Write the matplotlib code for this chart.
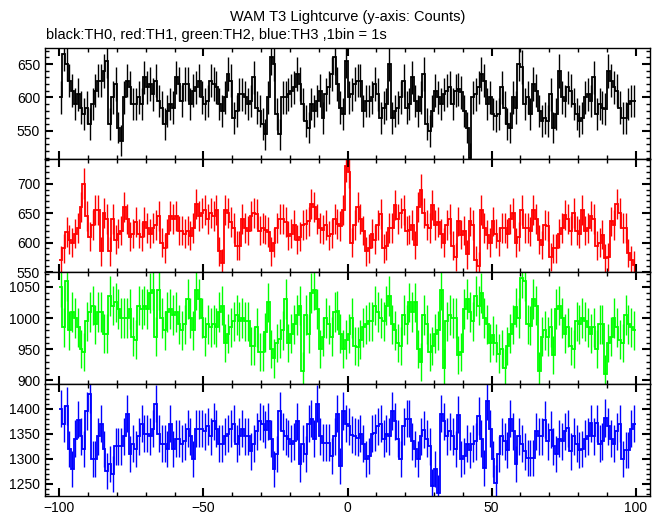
import numpy as np
import matplotlib
matplotlib.use("Agg")
import matplotlib.pyplot as plt
from matplotlib.ticker import MultipleLocator

plt.rcParams['font.family'] = ['Liberation Sans', 'DejaVu Sans']

title = "WAM T3 Lightcurve (y-axis: Counts)"
subtitle = "black:TH0, red:TH1, green:TH2, blue:TH3 ,1bin = 1s"

# bin start times (1 s bins)
t_start = -100
n_bins = 200

th0 = [600, 665, 650, 625, 610, 590, 605, 585, 575, 585, 560, 590, 610, 625, 625, 640, 655, 560, 600, 620,
       555, 535, 600, 625, 615, 590, 590, 600, 590, 630, 615, 620, 605, 625, 595, 585, 560, 580, 590, 585,
       630, 620, 595, 620, 620, 590, 610, 615, 625, 600, 590, 595, 625, 620, 615, 590, 580, 600, 635, 625,
       570, 580, 605, 605, 600, 590, 595, 630, 585, 580, 560, 545, 600, 660, 650, 575, 545, 600, 600, 605,
       610, 615, 635, 620, 590, 565, 555, 590, 580, 595, 610, 570, 605, 615, 635, 660, 620, 585, 575, 655,
       600, 605, 620, 625, 625, 580, 595, 595, 600, 620, 605, 570, 585, 590, 650, 570, 580, 585, 600, 625,
       585, 590, 630, 595, 580, 600, 635, 560, 550, 580, 610, 600, 590, 605, 610, 615, 590, 610, 612, 608,
       580, 555, 510, 600, 605, 615, 635, 625, 590, 600, 575, 572, 575, 615, 585, 560, 555, 600, 585, 650,
       645, 590, 600, 575, 620, 610, 580, 565, 570, 565, 605, 555, 575, 640, 600, 595, 615, 610, 590, 575,
       565, 570, 600, 605, 595, 630, 575, 590, 585, 583, 640, 625, 615, 610, 585, 570, 570, 590, 595, 595]

th1 = [570, 590, 618, 605, 600, 615, 625, 660, 700, 645, 610, 630, 655, 655, 585, 650, 640, 585, 640, 605,
       615, 620, 660, 640, 610, 615, 635, 615, 610, 635, 625, 615, 625, 630, 645, 600, 590, 615, 645, 640,
       645, 620, 620, 615, 620, 612, 625, 665, 645, 650, 655, 640, 650, 645, 655, 585, 565, 655, 650, 635,
       625, 595, 595, 640, 625, 620, 645, 650, 648, 620, 625, 622, 618, 585, 600, 625, 640, 640, 635, 612,
       615, 630, 605, 610, 630, 632, 636, 665, 660, 640, 625, 622, 630, 612, 615, 640, 632, 628, 655, 730,
       720, 600, 630, 660, 640, 620, 585, 590, 615, 605, 630, 648, 590, 595, 625, 625, 664, 640, 650, 655,
       620, 622, 630, 596, 660, 690, 650, 630, 625, 664, 630, 635, 615, 600, 630, 640, 595, 575, 636, 613,
       620, 580, 636, 630, 570, 560, 655, 625, 613, 600, 636, 615, 602, 625, 625, 615, 640, 650, 600, 610,
       655, 625, 625, 619, 655, 640, 605, 596, 630, 628, 575, 590, 590, 615, 625, 647, 640, 620, 650, 620,
       615, 655, 620, 625, 645, 640, 595, 600, 613, 573, 575, 636, 630, 665, 650, 625, 625, 582, 570, 562]

th2 = [1050, 985, 1060, 980, 1010, 1000, 985, 950, 945, 995, 1010, 1020, 990, 1010, 1010, 975, 975, 1035, 1020, 1025,
       1015, 1000, 1000, 1000, 1015, 970, 965, 1020, 1015, 1020, 1015, 1040, 1045, 970, 1045, 1000, 980, 1010, 1015, 1005,
       1010, 990, 980, 990, 1030, 1000, 980, 1045, 1030, 1000, 970, 990, 985, 990, 985, 1010, 1020, 960, 975, 985,
       995, 1005, 995, 1000, 995, 995, 955, 955, 985, 945, 945, 977, 1025, 950, 935, 960, 967, 980, 1030, 960,
       975, 990, 1005, 1020, 915, 1005, 975, 1040, 1045, 1015, 950, 970, 1000, 990, 970, 1010, 1012, 975, 950, 965,
       975, 1000, 955, 954, 965, 985, 990, 995, 995, 1020, 1010, 1000, 995, 1020, 1035, 990, 980, 960, 955, 1005,
       990, 1025, 1010, 1025, 950, 930, 1005, 990, 945, 955, 975, 980, 1045, 920, 995, 1005, 1000, 1000, 940, 945,
       1015, 1030, 1010, 995, 1035, 1020, 1040, 1000, 990, 960, 972, 960, 943, 950, 920, 955, 975, 990, 1017, 1000,
       1065, 1060, 990, 988, 1030, 1020, 915, 970, 980, 970, 985, 940, 1015, 1020, 1000, 975, 985, 955, 950, 995,
       990, 1000, 995, 985, 975, 985, 950, 990, 990, 910, 960, 970, 1000, 985, 965, 960, 1005, 990, 985, 980]

th3 = [1400, 1370, 1405, 1320, 1280, 1340, 1378, 1345, 1320, 1395, 1430, 1300, 1300, 1345, 1370, 1320, 1275, 1290, 1270, 1325,
       1325, 1325, 1345, 1390, 1310, 1330, 1320, 1345, 1370, 1350, 1350, 1345, 1360, 1410, 1350, 1330, 1330, 1320, 1370, 1320,
       1340, 1340, 1330, 1335, 1360, 1345, 1300, 1360, 1360, 1360, 1355, 1365, 1345, 1375, 1360, 1330, 1330, 1345, 1350, 1360,
       1370, 1330, 1345, 1360, 1345, 1345, 1315, 1330, 1355, 1375, 1370, 1358, 1375, 1340, 1280, 1310, 1395, 1355, 1345, 1340,
       1330, 1335, 1375, 1290, 1330, 1310, 1370, 1380, 1340, 1410, 1345, 1332, 1332, 1332, 1305, 1345, 1390, 1285, 1395, 1370,
       1365, 1348, 1345, 1342, 1350, 1330, 1300, 1305, 1350, 1352, 1365, 1370, 1340, 1350, 1345, 1395, 1375, 1340, 1300, 1365,
       1380, 1380, 1335, 1320, 1300, 1345, 1358, 1340, 1325, 1245, 1280, 1232, 1390, 1375, 1345, 1355, 1345, 1320, 1388, 1300,
       1305, 1330, 1318, 1330, 1335, 1385, 1340, 1282, 1415, 1360, 1300, 1252, 1310, 1345, 1335, 1318, 1380, 1355, 1290, 1345,
       1330, 1315, 1302, 1302, 1302, 1355, 1345, 1345, 1378, 1335, 1358, 1325, 1310, 1340, 1335, 1355, 1361, 1315, 1345, 1330,
       1318, 1320, 1340, 1345, 1371, 1345, 1371, 1330, 1335, 1381, 1365, 1340, 1330, 1355, 1370, 1300, 1318, 1318, 1360, 1370]

series = [th0, th1, th2, th3]
colors = ['#000000', '#ff0000', '#00ff00', '#0000ff']
ylims = [(508, 674), (550, 742), (894, 1074), (1226, 1449)]

edges = t_start + np.arange(n_bins + 1)
centers = edges[:-1] + 0.5

W, H = 662, 515
fig = plt.figure(figsize=(W / 100, H / 100), dpi=100)
left, right = 45 / W, 650 / W
tops = [48, 159, 272, 384]
bots = [159, 272, 384, 496]

axes = []
for k in range(4):
    y0 = 1 - bots[k] / H
    h = (bots[k] - tops[k]) / H
    ax = fig.add_axes([left, y0, right - left, h])
    vals = np.array(series[k], dtype=float)
    err = np.sqrt(vals)
    ax.stairs(vals, edges, color=colors[k], lw=1.3, baseline=None)
    ax.vlines(centers, vals - err, vals + err, color=colors[k], lw=1.0)
    ax.set_xlim(-105, 105)
    ax.set_ylim(*ylims[k])
    ax.xaxis.set_major_locator(MultipleLocator(50))
    ax.xaxis.set_minor_locator(MultipleLocator(10))
    ax.yaxis.set_major_locator(MultipleLocator(50))
    ax.yaxis.set_minor_locator(MultipleLocator(10))
    ax.tick_params(which='both', direction='in', top=True, right=True,
                   labelsize=10, colors='black')
    ax.tick_params(which='major', length=6, width=1.5)
    ax.tick_params(which='minor', length=3, width=1.0)
    for s in ax.spines.values():
        s.set_linewidth(1.0)
    if k < 3:
        ax.tick_params(labelbottom=False)
    axes.append(ax)

fig.text(348 / W, 1 - 17 / H, title, ha='center', va='center', fontsize=10.5)
fig.text(46 / W, 1 - 35 / H, subtitle, ha='left', va='center', fontsize=10.5)

fig.savefig('out.png', dpi=100)
